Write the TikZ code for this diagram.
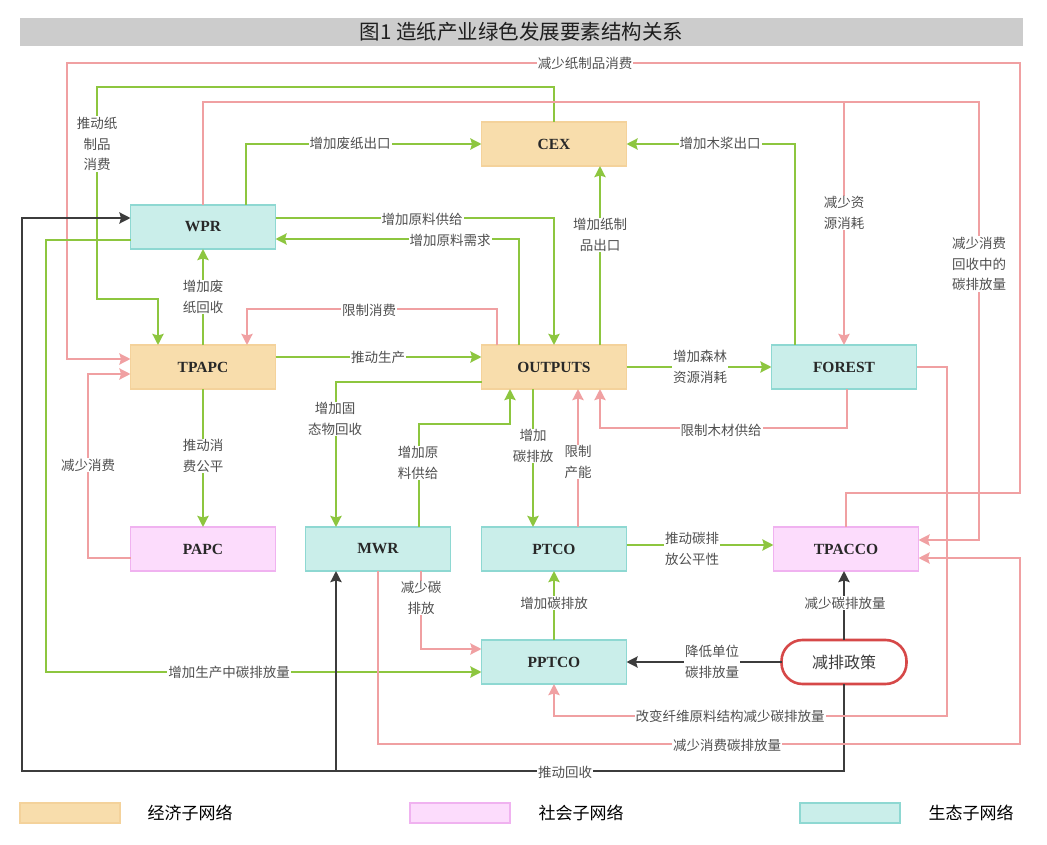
\documentclass[tikz,border=0pt]{standalone}
\usepackage{fontspec}
\setmainfont{Liberation Serif}
\newfontfamily\cjk{Noto Sans CJK SC}
\usetikzlibrary{positioning,arrows.meta,calc}

\definecolor{econfill}{RGB}{248,221,172}
\definecolor{econline}{RGB}{244,210,155}
\definecolor{ecofill}{RGB}{202,238,234}
\definecolor{ecoline}{RGB}{142,216,210}
\definecolor{socfill}{RGB}{252,220,252}
\definecolor{socline}{RGB}{240,178,240}
\definecolor{lgreen}{RGB}{141,198,63}
\definecolor{lpink}{RGB}{240,160,162}
\definecolor{dline}{RGB}{60,60,60}
\definecolor{lbltext}{RGB}{80,80,80}
\definecolor{titlegray}{RGB}{204,204,204}
\definecolor{policyred}{RGB}{214,72,72}

\begin{document}
\begin{tikzpicture}[
    x=1pt, y=-1pt,
    box/.style={draw, line width=1.2pt, minimum width=145pt, minimum height=44pt, inner sep=0pt, outer sep=0pt,
      font=\fontsize{15.5}{18}\selectfont\bfseries, text={rgb,255:red,40;green,40;blue,40}},
    econ/.style={box, fill=econfill, draw=econline},
    eco/.style={box, fill=ecofill, draw=ecoline},
    soc/.style={box, fill=socfill, draw=socline},
    policy/.style={draw=policyred, line width=2.6pt, fill=white, rounded corners=21pt, minimum width=125pt,
      minimum height=44pt, inner sep=0pt, outer sep=0pt, font=\cjk\fontsize{16}{18}\selectfont, text=dline},
    lbl/.style={fill=white, inner sep=1pt, align=center, font=\cjk\fontsize{13.5}{20.5}\selectfont, text=lbltext},
    greenline/.style={draw=lgreen, line width=2.8pt},
    pinkline/.style={draw=lpink, line width=2.8pt},
    blackline/.style={draw=dline, line width=2.8pt},
    legbox/.style={minimum width=100pt, minimum height=20pt, inner sep=0pt, line width=1.2pt},
    legtxt/.style={font=\cjk\fontsize{17}{19}\selectfont, text=black},
    >={Stealth[length=11pt,width=11pt,inset=1.5pt]}
  ]
    \useasboundingbox[fill=white] (0,0) rectangle (1047,845);

    % title
    \node[fill=titlegray, minimum width=1003pt, minimum height=28pt, inner sep=0pt,
      font=\cjk\fontsize{20.5}{24}\selectfont, text={rgb,255:red,30;green,30;blue,30}] (title) at (521.5,32) {图1 造纸产业绿色发展要素结构关系};

    % nodes
    \node[eco] (wpr) at (203,227) {WPR};
    \node[econ, below=96pt of wpr] (tpapc) {TPAPC};
    \node[econ, right=206pt of tpapc] (outputs) {OUTPUTS};
    \node[econ, above=179pt of outputs] (cex) {CEX};
    \node[eco, right=145pt of outputs] (forest) {FOREST};
    \node[soc, below=138pt of tpapc] (papc) {PAPC};
    \node[eco, right=30pt of papc] (mwr) {MWR};
    \node[eco, right=31pt of mwr] (ptco) {PTCO};
    \node[soc, right=147pt of ptco] (tpacco) {TPACCO};
    \node[eco, below=69pt of ptco] (pptco) {PPTCO};
    \node[policy, right=155pt of pptco] (policy) {减排政策};

    % long loops
    \draw[pinkline,->] (tpacco.north) |- (1020,493) -- (1020,63) -| (67,359) -- ($(tpapc.west)+(0,-8)$);
    \draw[greenline,->] (cex.north) |- (97,87) -- (97,299) -| ($(tpapc.north)+(-45,0)$);
    \draw[pinkline,->] (wpr.north) |- (979,102) |- ($(tpacco.east)+(0,-9)$);
    \draw[pinkline,->] (forest.north |- 0,102) -- (forest.north);
    \draw[greenline,->] ($(wpr.west)+(0,13)$) -| (46,672) -- ($(pptco.west)+(0,10)$);
    \draw[blackline,->] (policy.south) |- (22,771) |- ($(wpr.west)+(0,-9)$);
    \draw[blackline,->] ($(mwr.south)+(-42,200)$) -- ($(mwr.south)+(-42,0)$);
    \draw[pinkline,->] (forest.east) -| (947,716) -| (pptco.south);
    \draw[pinkline,->] (mwr.south) |- (1020,744) |- ($(tpacco.east)+(0,9)$);

    % upper part
    \draw[greenline,->] ($(wpr.north)+(43,0)$) |- (cex.west);
    \draw[greenline,->] ($(forest.north)+(-49,0)$) |- (cex.east);
    \draw[greenline,->] ($(wpr.east)+(0,-9)$) -| (outputs.north);
    \draw[greenline,->] ($(outputs.north)+(-35,0)$) |- ($(wpr.east)+(0,12)$);
    \draw[greenline,->] ($(outputs.north)+(46,0)$) -- ($(cex.south)+(46,0)$);
    \draw[pinkline,->] ($(outputs.north)+(-57,0)$) |- (247,309) -- ($(tpapc.north)+(44,0)$);
    \draw[greenline,->] (tpapc.north) -- (wpr.south);

    % middle part
    \draw[greenline,->] ($(tpapc.east)+(0,-10)$) -- ($(outputs.west)+(0,-10)$);
    \draw[greenline,->] ($(outputs.west)+(0,15)$) -| ($(mwr.north)+(-42,0)$);
    \draw[greenline,->] ($(mwr.north)+(41,0)$) |- ($(outputs.south)+(-44,35)$) -- ($(outputs.south)+(-44,0)$);
    \draw[greenline,->] ($(outputs.south)+(-21,0)$) -- ($(ptco.north)+(-21,0)$);
    \draw[pinkline,->] ($(ptco.north)+(24,0)$) -- ($(outputs.south)+(24,0)$);
    \draw[pinkline,->] ($(forest.south)+(3,0)$) |- ($(outputs.south)+(46,39)$) -- ($(outputs.south)+(46,0)$);
    \draw[greenline,->] (outputs.east) -- (forest.west);
    \draw[greenline,->] (tpapc.south) -- (papc.north);
    \draw[pinkline,->] ($(papc.west)+(0,9)$) -| (88,374) -- ($(tpapc.west)+(0,7)$);
    \draw[greenline,->] ($(ptco.east)+(0,-4)$) -- ($(tpacco.west)+(0,-4)$);

    % lower part
    \draw[pinkline,->] ($(mwr.south)+(43,0)$) |- ($(pptco.west)+(0,-13)$);
    \draw[greenline,->] (pptco.north) -- (ptco.south);
    \draw[blackline,->] (policy.west) -- (pptco.east);
    \draw[blackline,->] (policy.north) -- (policy.north |- tpacco.south);

    % labels
    \node[lbl] (l1) at (585,63) {减少纸制品消费};
    \node[lbl] (l2) at (97,144) {推动纸\\制品\\消费};
    \node[lbl] (l3) at (350,143) {增加废纸出口};
    \node[lbl] (l4) at (720,143) {增加木浆出口};
    \node[lbl] (l5) at (844,213) {减少资\\源消耗};
    \node[lbl] (l6) at (979,264) {减少消费\\回收中的\\碳排放量};
    \node[lbl] (l7) at (422,219) {增加原料供给};
    \node[lbl] (l8) at (450,240) {增加原料需求};
    \node[lbl] (l9) at (600,235) {增加纸制\\品出口};
    \node[lbl] (l10) at (369,310) {限制消费};
    \node[lbl] (l11) at (203,297) {增加废\\纸回收};
    \node[lbl] (l12) at (378,357) {推动生产};
    \node[lbl] (l13) at (335,419) {增加固\\态物回收};
    \node[lbl] (l14) at (418,463) {增加原\\料供给};
    \node[lbl] (l15) at (533,446) {增加\\碳排放};
    \node[lbl] (l16) at (578,462) {限制\\产能};
    \node[lbl] (l17) at (721,430) {限制木材供给};
    \node[lbl] (l18) at (700,367) {增加森林\\资源消耗};
    \node[lbl] (l19) at (203,456) {推动消\\费公平};
    \node[lbl] (l20) at (88,465) {减少消费};
    \node[lbl] (l21) at (692,549) {推动碳排\\放公平性};
    \node[lbl] (l22) at (421,598) {减少碳\\排放};
    \node[lbl] (l23) at (554,603) {增加碳排放};
    \node[lbl] (l24) at (845,603) {减少碳排放量};
    \node[lbl] (l25) at (712,662) {降低单位\\碳排放量};
    \node[lbl] (l26) at (229,672) {增加生产中碳排放量};
    \node[lbl] (l27) at (730,716) {改变纤维原料结构减少碳排放量};
    \node[lbl] (l28) at (727,745) {减少消费碳排放量};
    \node[lbl] (l29) at (565,772) {推动回收};

    % legend
    \node[legbox, fill=econfill, draw=econline] (lgecon) at (70,813) {};
    \node[legtxt] (txecon) at (190,813) {经济子网络};
    \node[legbox, fill=socfill, draw=socline] (lgsoc) at (460,813) {};
    \node[legtxt] (txsoc) at (581,813) {社会子网络};
    \node[legbox, fill=ecofill, draw=ecoline] (lgeco) at (850,813) {};
    \node[legtxt] (txeco) at (971,813) {生态子网络};
\end{tikzpicture}
\end{document}
